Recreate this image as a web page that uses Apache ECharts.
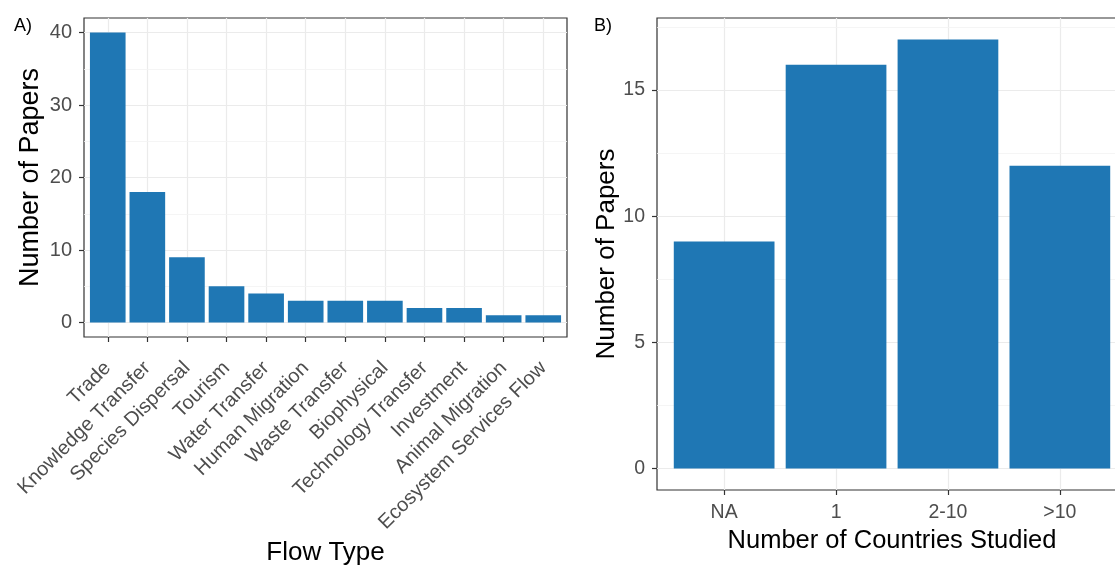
<!DOCTYPE html>
<html>
<head>
<meta charset="utf-8">
<script src="https://cdn.jsdelivr.net/npm/echarts@6/dist/echarts.min.js"></script>
<style>
html, body { margin: 0; padding: 0; background: #fff; overflow: hidden; }
/* panel B runs past the right edge of the picture, so the canvas is a bit wider than the window */
#chart { width: 1135px; height: 566px; }
</style>
</head>
<body>
<div id="chart"></div>
<script>
// panel A
var flowTypes = ["Trade", "Knowledge Transfer", "Species Dispersal", "Tourism", "Water Transfer",
  "Human Migration", "Waste Transfer", "Biophysical", "Technology Transfer", "Investment",
  "Animal Migration", "Ecosystem Services Flow"];
var flowPapers = [40, 18, 9, 5, 4, 3, 3, 3, 2, 2, 1, 1];
var flowTicks = [0, 10, 20, 30, 40];
var flowMinor = [5, 15, 25, 35];

// panel B
var countryGroups = ["NA", "1", "2-10", ">10"];
var countryPapers = [9, 16, 17, 12];
var countryTicks = [0, 5, 10, 15];
var countryMinor = [2.5, 7.5, 12.5, 17.5];

var FONT = "Liberation Sans";
var BLUE = "#1f77b4";
var gridA = { left: 84, top: 18, width: 483, height: 319 };
var gridB = { left: 657, top: 18, width: 470, height: 472 };

function idx(arr) {
  return arr.map(function (d, i) { return i; });
}

function xAxisFor(cats, gridIndex, name, nameGap, nameSize, label) {
  return {
    type: "value",
    gridIndex: gridIndex,
    min: -0.6,
    max: cats.length - 0.4,
    name: name,
    nameLocation: "middle",
    nameGap: nameGap,
    nameTextStyle: { color: "#000", fontFamily: FONT, fontSize: nameSize },
    axisLine: { show: false, onZero: false },
    axisTick: { show: true, length: 5, customValues: idx(cats), lineStyle: { color: "#333", width: 1.2 } },
    axisLabel: Object.assign({
      customValues: idx(cats),
      formatter: function (v) { return cats[Math.round(v)]; },
      color: "#4d4d4d",
      fontFamily: FONT
    }, label),
    splitLine: { show: true, lineStyle: { color: "#ebebeb", width: 1.2 } }
  };
}

function yAxisFor(ticks, lo, hi, gridIndex, nameGap, nameSize, labelSize) {
  return {
    type: "value",
    gridIndex: gridIndex,
    min: lo,
    max: hi,
    name: "Number of Papers",
    nameLocation: "middle",
    nameGap: nameGap,
    nameTextStyle: { color: "#000", fontFamily: FONT, fontSize: nameSize },
    axisLine: { show: false, onZero: false },
    axisTick: { show: true, length: 5, customValues: ticks, lineStyle: { color: "#333", width: 1.2 } },
    axisLabel: { customValues: ticks, color: "#4d4d4d", fontFamily: FONT, fontSize: labelSize, margin: 12 },
    splitLine: { show: true, lineStyle: { color: "#ebebeb", width: 1.2 } }
  };
}

function minorLines(vals) {
  return {
    silent: true,
    z: 1,
    symbol: "none",
    label: { show: false },
    lineStyle: { color: "#f2f2f2", width: 0.8, type: "solid" },
    data: vals.map(function (v) { return { yAxis: v }; })
  };
}

var gridStyle = { show: true, borderColor: "#333", borderWidth: 1.2, backgroundColor: "transparent", outerBoundsMode: "none", containLabel: false };

var chart = echarts.init(document.getElementById("chart"));
chart.setOption({
  animation: false,
  backgroundColor: "#fff",
  title: [
    { text: "A)", left: 9, top: 12, textStyle: { fontFamily: FONT, fontSize: 18, fontWeight: "normal", color: "#000" } },
    { text: "B)", left: 589, top: 12, textStyle: { fontFamily: FONT, fontSize: 18, fontWeight: "normal", color: "#000" } }
  ],
  grid: [
    Object.assign({}, gridStyle, gridA),
    Object.assign({}, gridStyle, gridB)
  ],
  xAxis: [
    // top padding pushes the rotated text down-right, like ggplot's hjust=1/vjust=1
    xAxisFor(flowTypes, 0, "Flow Type", 203, 26, { rotate: 45, fontSize: 20, margin: 28, padding: [14, 0, 0, 0] }),
    xAxisFor(countryGroups, 1, "Number of Countries Studied", 34, 25.5, { fontSize: 19.5, margin: 13 })
  ],
  yAxis: [
    yAxisFor(flowTicks, -2, 42, 0, 40, 27, 20),
    yAxisFor(countryTicks, -0.85, 17.85, 1, 37, 26, 19.5)
  ],
  series: [
    {
      type: "bar",
      xAxisIndex: 0,
      yAxisIndex: 0,
      z: 2,
      barWidth: 0.9 * gridA.width / (flowTypes.length + 0.2),
      itemStyle: { color: BLUE },
      data: flowPapers.map(function (v, i) { return [i, v]; }),
      markLine: minorLines(flowMinor)
    },
    {
      type: "bar",
      xAxisIndex: 1,
      yAxisIndex: 1,
      z: 2,
      barWidth: 0.9 * gridB.width / (countryGroups.length + 0.2),
      itemStyle: { color: BLUE },
      data: countryPapers.map(function (v, i) { return [i, v]; }),
      markLine: minorLines(countryMinor)
    }
  ]
});
</script>
</body>
</html>
